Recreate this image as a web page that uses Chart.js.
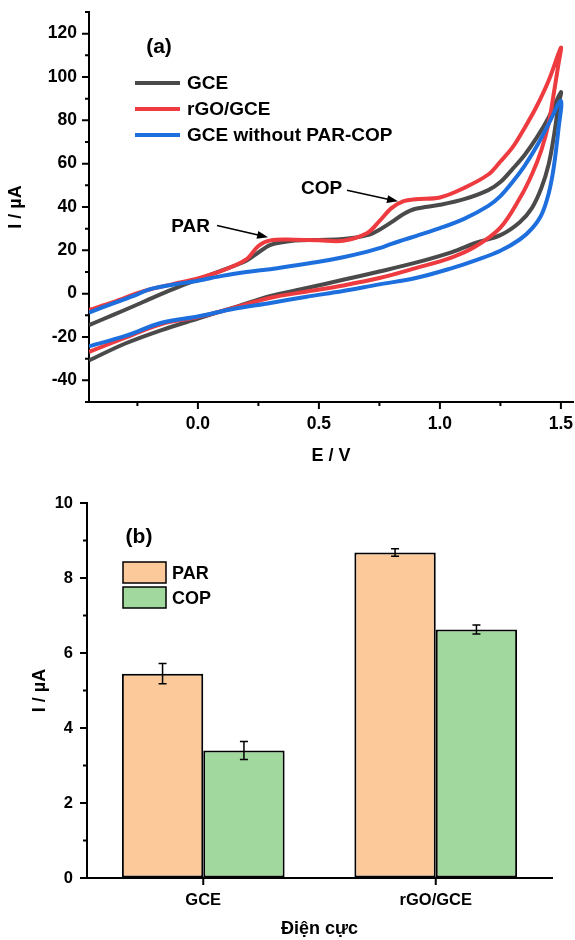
<!DOCTYPE html>
<html>
<head>
<meta charset="utf-8">
<script src="https://cdn.jsdelivr.net/npm/chart.js@4.4.1/dist/chart.umd.min.js"></script>
<style>
  html, body { margin: 0; padding: 0; background: #fff; }
  canvas { display: block; }
</style>
</head>
<body>
<canvas id="cv" width="575" height="470"></canvas>
<canvas id="bars" width="575" height="470"></canvas>
<script>
// (a) cyclic voltammograms: potential grid for the anodic and cathodic sweeps
const eForward = [-0.45, -0.35, -0.25, -0.2, -0.1, 0, 0.1, 0.2, 0.25, 0.3, 0.4, 0.5, 0.6, 0.7, 0.75, 0.8, 0.85, 0.9, 1.0, 1.1, 1.2, 1.25, 1.3, 1.35, 1.4, 1.45, 1.5];
const eReverse = [1.49, 1.47, 1.45, 1.42, 1.38, 1.33, 1.25, 1.15, 1.05, 0.9, 0.75, 0.6, 0.45, 0.3, 0.15, 0, -0.15, -0.3, -0.45];

const gceForward = [-14.5, -9.8, -5.0, -2.5, 2.2, 6.5, 10.8, 15.2, 19.0, 22.5, 24.5, 24.8, 25.2, 27.0, 29.5, 33.0, 36.8, 39.2, 41.0, 43.6, 47.8, 51.5, 57.5, 64.0, 72.0, 81.5, 93.0];
const gceReverse = [87, 72, 60, 49, 39.5, 33, 27, 23.5, 19.2, 14.3, 10.2, 6.4, 2.6, -1.0, -6.3, -11.5, -16.8, -23.0, -30.8];
const rgoForward = [-7.5, -3.9, 0.2, 1.9, 4.5, 7.0, 10.6, 15.8, 22.0, 24.6, 24.9, 24.6, 24.4, 28.0, 33.5, 39.5, 42.7, 43.6, 44.4, 48.8, 55.0, 61.0, 67.5, 76.5, 86.5, 98.5, 113.5];
const rgoReverse = [106, 92, 79, 66.5, 55, 44, 30.5, 22, 16.8, 11.8, 7.2, 3.8, 1.0, -1.9, -6.5, -10.8, -14.0, -20.3, -26.9];
const bareForward = [-8.7, -4.5, -0.3, 2.0, 4.2, 6.0, 8.2, 10.0, 10.7, 11.3, 13.0, 14.7, 16.8, 19.4, 21.0, 23.0, 24.8, 26.6, 30.2, 34.5, 40.5, 45.0, 51.5, 59.0, 68.0, 78.5, 89.0];
const bareReverse = [76, 58, 46.5, 36.5, 30, 25, 19.8, 15.5, 11.8, 7.2, 4.3, 1.2, -1.4, -4.3, -7.0, -10.5, -13.4, -19.5, -24.3];

const cvMajorE = [0, 0.5, 1.0, 1.5];
const cvMinorE = [-0.25, 0.25, 0.75, 1.25];
const cvMajorI = [-40, -20, 0, 20, 40, 60, 80, 100, 120];
const cvMinorI = [-50, -30, -10, 10, 30, 50, 70, 90, 110, 130];

// (b) peak currents
const electrodes = ['GCE', 'rGO/GCE'];
const parCurrent = [5.45, 8.68];
const parError = [0.27, 0.10];
const copCurrent = [3.40, 6.63];
const copError = [0.24, 0.12];

const barMajorI = [0, 2, 4, 6, 8, 10];
const barMinorI = [1, 3, 5, 7, 9];

Chart.defaults.font.family = "'Liberation Sans', Arial, sans-serif";
Chart.defaults.font.weight = 'bold';
Chart.defaults.font.size = 17.5;
Chart.defaults.color = '#000';

function loop(eF, eR, iF, iR) {
    const pts = eF.map((e, k) => ({ x: e, y: iF[k] }));
    return pts.concat(eR.map((e, k) => ({ x: e, y: iR[k] })));
}

function curve(label, color, order, data) {
    return { label: label, data: data, borderColor: color, backgroundColor: color, order: order,
        showLine: true, pointRadius: 0, borderWidth: 4, tension: 0.35, fill: false };
}

// outward tick marks, majors long and minors short
const tickMarks = {
    id: 'tickMarks',
    afterDraw(chart, args, opts) {
        const ctx = chart.ctx, a = chart.chartArea;
        const xs = chart.scales.x, ys = chart.scales.y;
        ctx.save();
        ctx.strokeStyle = '#000';
        ctx.lineWidth = 2;
        ctx.beginPath();
        const xt = (v, len) => { const p = xs.getPixelForValue(v); ctx.moveTo(p, a.bottom); ctx.lineTo(p, a.bottom + len); };
        const yt = (v, len) => { const p = ys.getPixelForValue(v); ctx.moveTo(a.left, p); ctx.lineTo(a.left - len, p); };
        (opts.xMajor || []).forEach(v => xt(v, 7));
        (opts.xMinor || []).forEach(v => xt(v, 4));
        (opts.yMajor || []).forEach(v => yt(v, 7));
        (opts.yMinor || []).forEach(v => yt(v, 4));
        ctx.stroke();
        ctx.restore();
    }
};

const cvLegend = {
    id: 'cvLegend',
    afterDraw(chart) {
        const ctx = chart.ctx, a = chart.chartArea;
        ctx.save();
        ctx.font = "bold 21px 'Liberation Sans', Arial, sans-serif";
        ctx.fillStyle = '#000';
        ctx.textAlign = 'center';
        ctx.textBaseline = 'middle';
        ctx.fillText('(a)', a.left + 70, a.top + 35);
        ctx.font = "bold 19px 'Liberation Sans', Arial, sans-serif";
        ctx.textAlign = 'left';
        chart.data.datasets.forEach((ds, i) => {
            const y = a.top + 71 + i * 26;
            ctx.strokeStyle = ds.borderColor;
            ctx.lineWidth = 4;
            ctx.beginPath();
            ctx.moveTo(a.left + 46, y);
            ctx.lineTo(a.left + 91, y);
            ctx.stroke();
            ctx.fillText(ds.label, a.left + 98, y + 1);
        });
        ctx.restore();
    }
};

// peak labels with arrows, placed in data coordinates
const peakNotes = {
    id: 'peakNotes',
    afterDraw(chart, args, opts) {
        const ctx = chart.ctx, xs = chart.scales.x, ys = chart.scales.y;
        ctx.save();
        ctx.fillStyle = '#000';
        ctx.strokeStyle = '#000';
        ctx.lineWidth = 1.5;
        ctx.font = "bold 19px 'Liberation Sans', Arial, sans-serif";
        ctx.textAlign = 'center';
        ctx.textBaseline = 'middle';
        opts.notes.forEach(n => {
            ctx.fillText(n.text, xs.getPixelForValue(n.at[0]), ys.getPixelForValue(n.at[1]));
            const x0 = xs.getPixelForValue(n.from[0]), y0 = ys.getPixelForValue(n.from[1]);
            const x1 = xs.getPixelForValue(n.to[0]), y1 = ys.getPixelForValue(n.to[1]);
            const ang = Math.atan2(y1 - y0, x1 - x0);
            ctx.beginPath();
            ctx.moveTo(x0, y0);
            ctx.lineTo(x1 - 8 * Math.cos(ang), y1 - 8 * Math.sin(ang));
            ctx.stroke();
            ctx.beginPath();
            ctx.moveTo(x1, y1);
            ctx.lineTo(x1 - 11 * Math.cos(ang) + 4 * Math.sin(ang), y1 - 11 * Math.sin(ang) - 4 * Math.cos(ang));
            ctx.lineTo(x1 - 11 * Math.cos(ang) - 4 * Math.sin(ang), y1 - 11 * Math.sin(ang) + 4 * Math.cos(ang));
            ctx.closePath();
            ctx.fill();
        });
        ctx.restore();
    }
};

const errorBars = {
    id: 'errorBars',
    afterDatasetsDraw(chart) {
        const ctx = chart.ctx, ys = chart.scales.y;
        ctx.save();
        ctx.strokeStyle = '#000';
        ctx.lineWidth = 1.5;
        chart.data.datasets.forEach((ds, i) => {
            chart.getDatasetMeta(i).data.forEach((bar, j) => {
                const top = ys.getPixelForValue(ds.data[j] + ds.errors[j]);
                const bot = ys.getPixelForValue(ds.data[j] - ds.errors[j]);
                ctx.beginPath();
                ctx.moveTo(bar.x, top); ctx.lineTo(bar.x, bot);
                ctx.moveTo(bar.x - 4, top); ctx.lineTo(bar.x + 4, top);
                ctx.moveTo(bar.x - 4, bot); ctx.lineTo(bar.x + 4, bot);
                ctx.stroke();
            });
        });
        ctx.restore();
    }
};

const barLegend = {
    id: 'barLegend',
    afterDraw(chart) {
        const ctx = chart.ctx, a = chart.chartArea;
        ctx.save();
        ctx.fillStyle = '#000';
        ctx.font = "bold 21px 'Liberation Sans', Arial, sans-serif";
        ctx.textAlign = 'center';
        ctx.textBaseline = 'middle';
        ctx.fillText('(b)', a.left + 52, a.top + 34);
        ctx.font = "bold 18px 'Liberation Sans', Arial, sans-serif";
        ctx.textAlign = 'left';
        chart.data.datasets.forEach((ds, i) => {
            const y = a.top + 59 + i * 25;
            ctx.fillStyle = ds.backgroundColor;
            ctx.fillRect(a.left + 36, y, 43, 21);
            ctx.strokeStyle = '#000';
            ctx.lineWidth = 1.5;
            ctx.strokeRect(a.left + 36, y, 43, 21);
            ctx.fillStyle = '#000';
            ctx.fillText(ds.label, a.left + 85, y + 12);
        });
        ctx.restore();
    }
};

const axisLine = { display: true, color: '#000', width: 2 };
const noGrid = { display: true, drawOnChartArea: false, drawTicks: false };

new Chart(document.getElementById('cv'), {
    type: 'scatter',
    data: {
        datasets: [
            curve('GCE', '#4a4a4a', 3, loop(eForward, eReverse, gceForward, gceReverse)),
            curve('rGO/GCE', '#ee3b40', 2, loop(eForward, eReverse, rgoForward, rgoReverse)),
            curve('GCE without PAR-COP', '#1d6fde', 1, loop(eForward, eReverse, bareForward, bareReverse))
        ]
    },
    plugins: [tickMarks, cvLegend, peakNotes],
    options: {
        responsive: false,
        animation: false,
        layout: { padding: { top: 12, right: 2, left: 0, bottom: 0 } },
        plugins: {
            legend: { display: false },
            tooltip: { enabled: false },
            tickMarks: { xMajor: cvMajorE, xMinor: cvMinorE, yMajor: cvMajorI, yMinor: cvMinorI },
            peakNotes: {
                notes: [
                    { text: 'PAR', at: [-0.03, 31], from: [0.079, 31.5], to: [0.29, 26.0] },
                    { text: 'COP', at: [0.511, 48.6], from: [0.616, 47.7], to: [0.827, 42.6] }
                ]
            }
        },
        scales: {
            x: {
                type: 'linear', min: -0.45, max: 1.55,
                grid: noGrid, border: axisLine,
                afterBuildTicks: s => { s.ticks = cvMajorE.map(v => ({ value: v })); },
                afterFit: s => { s.height = 68; s.paddingLeft = 0; s.paddingRight = 0; },
                ticks: { padding: 12, callback: v => v.toFixed(1) },
                title: { display: true, text: 'E / V', font: { size: 18 }, padding: { top: 0, bottom: 3 } }
            },
            y: {
                type: 'linear', min: -50, max: 130,
                grid: noGrid, border: axisLine,
                afterBuildTicks: s => { s.ticks = cvMajorI.map(v => ({ value: v })); },
                afterFit: s => { s.width = 89; s.paddingTop = 0; s.paddingBottom = 0; },
                ticks: { padding: 12 },
                title: { display: true, text: 'I / µA', font: { size: 18 }, padding: { top: 5, bottom: 0 } }
            }
        }
    }
});

new Chart(document.getElementById('bars'), {
    type: 'bar',
    data: {
        labels: electrodes,
        datasets: [
            { label: 'PAR', data: parCurrent, errors: parError, backgroundColor: '#fbc99a',
              borderColor: '#000', borderWidth: 2, borderSkipped: false, categoryPercentage: 0.7, barPercentage: 1.0 },
            { label: 'COP', data: copCurrent, errors: copError, backgroundColor: '#a1d89d',
              borderColor: '#000', borderWidth: 2, borderSkipped: false, categoryPercentage: 0.7, barPercentage: 1.0 }
        ]
    },
    plugins: [tickMarks, errorBars, barLegend],
    options: {
        responsive: false,
        animation: false,
        layout: { padding: { top: 33, right: 23, left: 0, bottom: 0 } },
        plugins: {
            legend: { display: false },
            tooltip: { enabled: false },
            tickMarks: { xMajor: electrodes.map((_, i) => i), yMajor: barMajorI, yMinor: barMinorI }
        },
        scales: {
            x: {
                type: 'category',
                grid: noGrid, border: axisLine,
                afterFit: s => { s.height = 62; s.paddingLeft = 0; s.paddingRight = 0; },
                ticks: { padding: 13, font: { size: 16.5 } },
                title: { display: true, text: 'Điện cực', font: { size: 18 }, padding: { top: 0, bottom: 0 } }
            },
            y: {
                type: 'linear', min: 0, max: 10,
                grid: noGrid, border: axisLine,
                afterBuildTicks: s => { s.ticks = barMajorI.map(v => ({ value: v })); },
                afterFit: s => { s.width = 87; s.paddingTop = 0; s.paddingBottom = 0; },
                ticks: { padding: 14, font: { size: 16.5 } },
                title: { display: true, text: 'I / µA', font: { size: 18 }, padding: { top: 29, bottom: 0 } }
            }
        }
    }
});
</script>
</body>
</html>
